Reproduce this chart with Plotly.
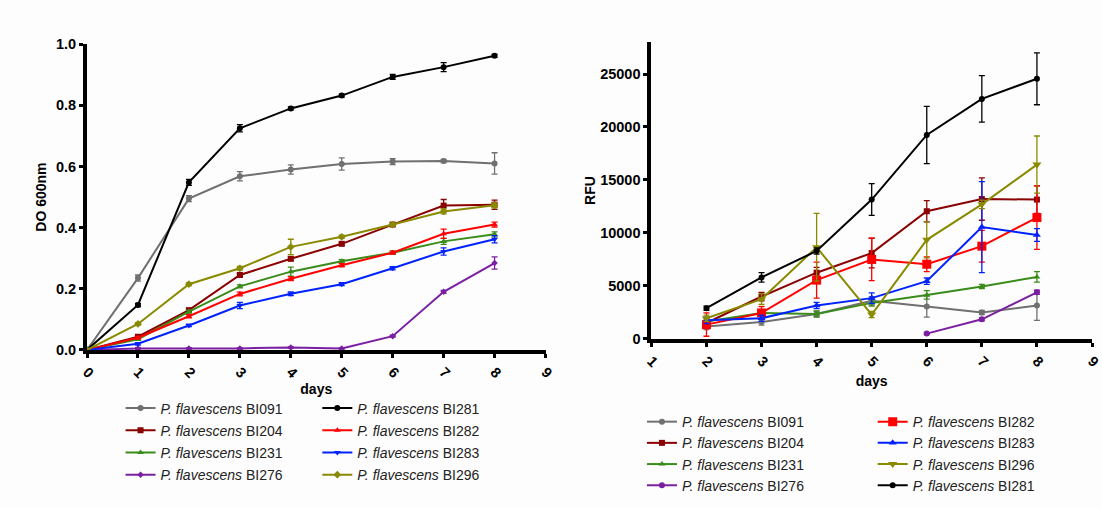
import plotly.graph_objects as go

# ---------------- data ----------------
days_od = [0, 1, 2, 3, 4, 5, 6, 7, 8]
days_rfu = [2, 3, 4, 5, 6, 7, 8]
days_rfu_276 = [6, 7, 8]

od_BI091 = [0.0, 0.235, 0.495, 0.568, 0.59, 0.608, 0.616, 0.618, 0.61]
od_BI091_err = [0, 0.01, 0.01, 0.015, 0.015, 0.02, 0.01, 0.005, 0.035]
od_BI204 = [0.0, 0.043, 0.13, 0.245, 0.298, 0.347, 0.41, 0.472, 0.475]
od_BI204_err = [0, 0.005, 0.005, 0.005, 0.006, 0.005, 0.005, 0.02, 0.015]
od_BI231 = [0.0, 0.035, 0.125, 0.208, 0.256, 0.29, 0.318, 0.355, 0.378]
od_BI231_err = [0, 0.003, 0.005, 0.005, 0.015, 0.005, 0.005, 0.01, 0.008]
od_BI276 = [0.0, 0.005, 0.005, 0.005, 0.008, 0.005, 0.045, 0.19, 0.284]
od_BI276_err = [0, 0.002, 0.002, 0.002, 0.002, 0.002, 0.003, 0.005, 0.02]
od_BI281 = [0.0, 0.147, 0.548, 0.725, 0.79, 0.832, 0.893, 0.925, 0.962]
od_BI281_err = [0, 0.005, 0.01, 0.012, 0.005, 0.005, 0.008, 0.015, 0.005]
od_BI282 = [0.0, 0.04, 0.11, 0.183, 0.233, 0.277, 0.318, 0.38, 0.41]
od_BI282_err = [0, 0.004, 0.005, 0.006, 0.006, 0.005, 0.005, 0.015, 0.008]
od_BI283 = [0.0, 0.02, 0.08, 0.145, 0.184, 0.215, 0.267, 0.322, 0.362]
od_BI283_err = [0, 0.004, 0.004, 0.01, 0.006, 0.005, 0.005, 0.012, 0.012]
od_BI296 = [0.0, 0.085, 0.215, 0.267, 0.337, 0.37, 0.41, 0.453, 0.473]
od_BI296_err = [0, 0.004, 0.005, 0.006, 0.025, 0.005, 0.005, 0.008, 0.008]

rfu_BI091 = [1170, 1600, 2350, 3600, 3050, 2500, 3150]
rfu_BI091_err = [300, 300, 250, 400, 1000, 200, 1400]
rfu_BI204 = [1500, 4000, 6250, 8100, 12050, 13200, 13150]
rfu_BI204_err = [400, 400, 500, 1400, 1000, 2000, 1300]
rfu_BI231 = [1650, 2450, 2350, 3400, 4150, 4950, 5850]
rfu_BI231_err = [300, 300, 300, 300, 400, 200, 500]
rfu_BI276 = [500, 1850, 4400]
rfu_BI276_err = [100, 150, 200]
rfu_BI281 = [2900, 5800, 8300, 13150, 19250, 22650, 24550]
rfu_BI281_err = [200, 450, 300, 1500, 2700, 2200, 2450]
rfu_BI282 = [1350, 2450, 5550, 7500, 7050, 8750, 11450]
rfu_BI282_err = [1100, 600, 1700, 2000, 700, 1500, 3000]
rfu_BI283 = [1750, 1950, 3150, 3850, 5450, 10550, 9800]
rfu_BI283_err = [300, 300, 300, 500, 300, 4300, 600]
rfu_BI296 = [1950, 3750, 8650, 2300, 9350, 12700, 16450]
rfu_BI296_err = [300, 500, 3200, 300, 1700, 400, 2700]

od_ticks = [0, 0.2, 0.4, 0.6, 0.8, 1.0]
od_ticktext = ["0.0", "0.2", "0.4", "0.6", "0.8", "1.0"]
rfu_ticks = [0, 5000, 10000, 15000, 20000, 25000]
rfu_ticktext = ["0", "5000", "10000", "15000", "20000", "25000"]

c091 = "#707070"
c204 = "#8B0000"
c231 = "#3A8C1A"
c276 = "#7B1FA2"
c281 = "#000000"
c282 = "#FF0000"
c283 = "#0022FF"
c296 = "#8A8A00"

FONT = "Liberation Sans, Arial, sans-serif"

fig = go.Figure()


def label(name):
    return "<i>P. flavescens</i> " + name


def add(x, y, err, color, symbol, name, xa, ya, leg, size=6):
    fig.add_trace(go.Scatter(
        x=x, y=y, mode="lines+markers",
        name=label(name), xaxis=xa, yaxis=ya, legend=leg,
        legendgroup=leg + name,
        line=dict(color=color, width=2),
        marker=dict(color=color, symbol=symbol, size=size),
        error_y=dict(type="data", array=err, visible=True, color=color,
                     thickness=1.3, width=3),
        cliponaxis=False,
    ))


# left chart
add(days_od, od_BI091, od_BI091_err, c091, "circle", "BI091", "x", "y", "legend")
add(days_od, od_BI204, od_BI204_err, c204, "square", "BI204", "x", "y", "legend")
add(days_od, od_BI231, od_BI231_err, c231, "triangle-up", "BI231", "x", "y", "legend")
add(days_od, od_BI276, od_BI276_err, c276, "diamond", "BI276", "x", "y", "legend", size=5)
add(days_od, od_BI281, od_BI281_err, c281, "circle", "BI281", "x", "y", "legend2")
add(days_od, od_BI282, od_BI282_err, c282, "triangle-up", "BI282", "x", "y", "legend2")
add(days_od, od_BI283, od_BI283_err, c283, "triangle-down", "BI283", "x", "y", "legend2")
add(days_od, od_BI296, od_BI296_err, c296, "diamond", "BI296", "x", "y", "legend2")

# right chart
add(days_rfu, rfu_BI091, rfu_BI091_err, c091, "circle", "BI091", "x2", "y2", "legend3")
add(days_rfu, rfu_BI204, rfu_BI204_err, c204, "square", "BI204", "x2", "y2", "legend3")
add(days_rfu, rfu_BI231, rfu_BI231_err, c231, "triangle-up", "BI231", "x2", "y2", "legend3")
add(days_rfu_276, rfu_BI276, rfu_BI276_err, c276, "circle", "BI276", "x2", "y2", "legend3")
add(days_rfu, rfu_BI282, rfu_BI282_err, c282, "square", "BI282", "x2", "y2", "legend4", size=9)
add(days_rfu, rfu_BI283, rfu_BI283_err, c283, "triangle-up", "BI283", "x2", "y2", "legend4", size=7)
add(days_rfu, rfu_BI296, rfu_BI296_err, c296, "triangle-down", "BI296", "x2", "y2", "legend4", size=8)
add(days_rfu, rfu_BI281, rfu_BI281_err, c281, "circle", "BI281", "x2", "y2", "legend4")

W, H = 1102, 508
# the page is photographed slightly scaled with an 8px body margin;
# convert reference pixel positions to figure pixel positions
SX = 1118 / 1102
SY = 524 / 508
OFF = 8


def px(p):
    return p * SX - OFF


def py(p):
    return p * SY - OFF


def fx(p):
    return min(1.0, px(p) / W)


def fy(p):
    return 1 - py(p) / H


axis_common = dict(
    showgrid=False, zeroline=False, showline=True, linecolor="black", linewidth=4,
    ticks="outside", ticklen=4, tickwidth=3, tickcolor="black",
    tickfont=dict(family=FONT, size=14.5, color="black", weight="bold"),
)

legend_common = dict(
    orientation="v", bgcolor="rgba(0,0,0,0)", borderwidth=0,
    font=dict(family=FONT, size=14, color="#222"),
    xanchor="left", yanchor="top", itemwidth=30,
)

title_font = dict(family=FONT, size=14, color="black")

fig.update_layout(
    width=W, height=H,
    margin=dict(l=0, r=0, t=0, b=0),
    paper_bgcolor="#fdfdfd", plot_bgcolor="rgba(0,0,0,0)",
    font=dict(family=FONT),
    xaxis=dict(domain=[fx(88), fx(547)], range=[0, 9], tickvals=list(range(0, 10)),
               tickangle=45, anchor="y",
               title=dict(text="<b>days</b>", font=title_font, standoff=1),
               **axis_common),
    yaxis=dict(domain=[fy(350), fy(44)], range=[0, 1.0],
               tickvals=od_ticks, ticktext=od_ticktext, anchor="x",
               title=dict(text="<b>DO 600nm</b>", font=title_font, standoff=7),
               **axis_common),
    xaxis2=dict(domain=[fx(653), fx(1097)], range=[1, 9], tickvals=list(range(1, 10)),
                tickangle=45, anchor="y2",
                title=dict(text="<b>days</b>", font=title_font, standoff=8),
                **axis_common),
    yaxis2=dict(domain=[fy(339), fy(42)], range=[0, 28000],
                tickvals=rfu_ticks, ticktext=rfu_ticktext, anchor="x2",
                title=dict(text="<b>RFU</b>", font=title_font, standoff=2),
                **axis_common),
    legend=dict(x=(px(161) - 40) / W, y=1 - 397 / H, tracegroupgap=1, **legend_common),
    legend2=dict(x=(px(358) - 40) / W, y=1 - 397 / H, tracegroupgap=1, **legend_common),
    legend3=dict(x=(px(683) - 40) / W, y=1 - 411 / H, tracegroupgap=0, **legend_common),
    legend4=dict(x=(px(914) - 40) / W, y=1 - 411 / H, tracegroupgap=0, **legend_common),
    showlegend=True,
)

fig.write_html("out.html")
